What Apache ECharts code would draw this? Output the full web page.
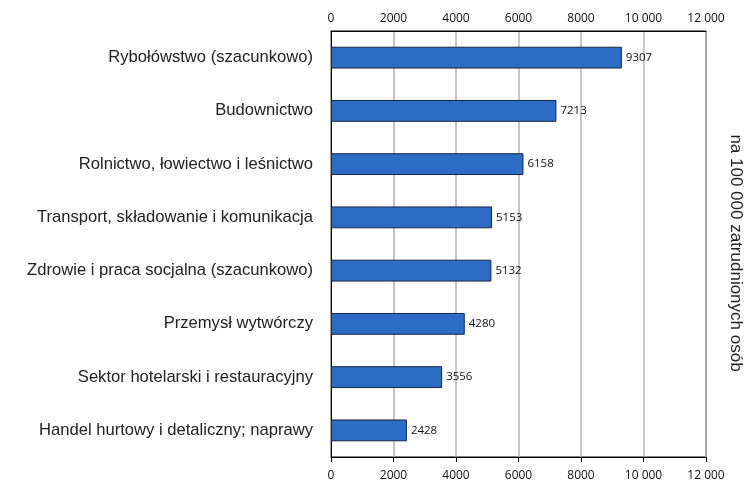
<!DOCTYPE html>
<html>
<head>
<meta charset="utf-8">
<script src="https://cdn.jsdelivr.net/npm/echarts@6/dist/echarts.min.js"></script>
<style>
  html, body { margin: 0; padding: 0; background: #fff; }
  #chart { width: 750px; height: 482px; }
</style>
</head>
<body>
<div id="chart"></div>
<script>
// Sectors, listed from top to bottom
const categories = [
  'Rybołówstwo (szacunkowo)',
  'Budownictwo',
  'Rolnictwo, łowiectwo i leśnictwo',
  'Transport, składowanie i komunikacja',
  'Zdrowie i praca socjalna (szacunkowo)',
  'Przemysł wytwórczy',
  'Sektor hotelarski i restauracyjny',
  'Handel hurtowy i detaliczny; naprawy'
];
// Accidents per 100 000 employed persons
const values = [9307, 7213, 6158, 5153, 5132, 4280, 3556, 2428];
const axisMax = 12000;
const axisStep = 2000;
const unitLabel = 'na 100 000 zatrudnionych osób';

const tickFont = { fontFamily: 'Open Sans', fontSize: 12, color: '#111' };
const fmt = v => v >= 10000 ? String(v).replace(/(\d+)(\d{3})$/, '$1 $2') : String(v);

const chart = echarts.init(document.getElementById('chart'), null, { renderer: 'canvas' });
chart.setOption({
  animation: false,
  grid: {
    left: 331, right: 44, top: 31, bottom: 24,
    show: true, borderColor: '#000', borderWidth: 1, backgroundColor: 'transparent'
  },
  xAxis: [
    {
      type: 'value', position: 'bottom', min: 0, max: axisMax, interval: axisStep,
      axisLine: { show: true, lineStyle: { color: '#000', width: 1 } },
      axisTick: { show: true, inside: false, length: 5, lineStyle: { color: '#000' } },
      axisLabel: Object.assign({ margin: 13, formatter: fmt }, tickFont),
      splitLine: { show: true, lineStyle: { color: '#b3b3b3', width: 1.5 } }
    },
    {
      type: 'value', position: 'top', min: 0, max: axisMax, interval: axisStep,
      axisLine: { show: true, lineStyle: { color: '#000', width: 1 } },
      axisTick: { show: false },
      axisLabel: Object.assign({ margin: 6, formatter: fmt }, tickFont),
      splitLine: { show: false }
    }
  ],
  yAxis: {
    type: 'category', data: categories, inverse: true,
    axisLine: { show: true, lineStyle: { color: '#000', width: 1 } },
    axisTick: { show: false },
    axisLabel: { fontFamily: 'Liberation Sans', fontSize: 16.6, color: '#222', margin: 18 }
  },
  series: [{
    type: 'bar', data: values, xAxisIndex: 0, barWidth: '41%',
    itemStyle: { color: '#2c6cc5', borderColor: '#1b2540', borderWidth: 1 },
    label: { show: true, position: 'right', distance: 4, fontFamily: 'Open Sans', fontSize: 11.5, color: '#111' }
  }],
  graphic: [{
    type: 'text', x: 736, y: 253, rotation: -Math.PI / 2,
    style: {
      text: unitLabel, fontFamily: 'Liberation Sans', fontSize: 17, fill: '#222',
      align: 'center', verticalAlign: 'middle'
    }
  }]
});
</script>
</body>
</html>
